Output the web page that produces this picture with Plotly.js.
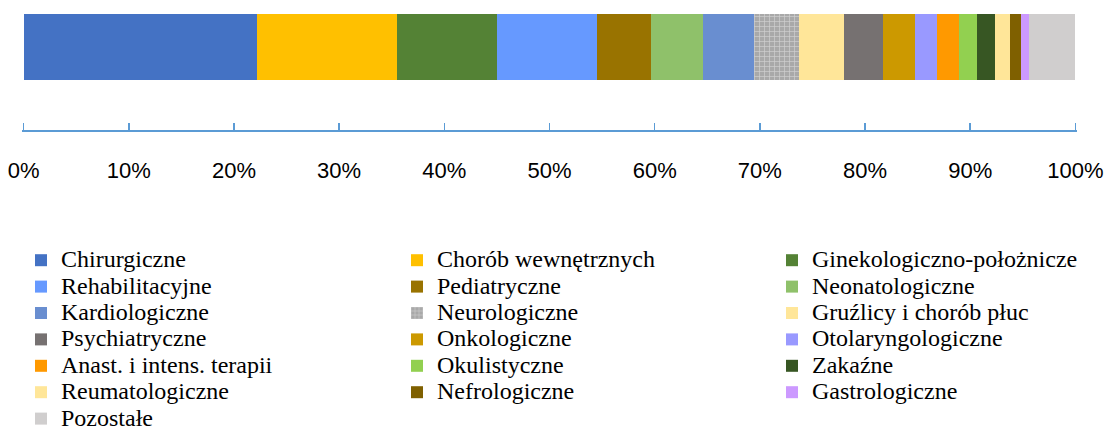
<!DOCTYPE html>
<html>
<head>
<meta charset="utf-8">
<script src="https://cdn.plot.ly/plotly-3.0.1.min.js"></script>
<style>html,body{margin:0;padding:0;background:#fff;}#chart{width:1105px;height:429px;}</style>
</head>
<body>
<div id="chart"></div>
<script>
const categories = ["Chirurgiczne","Chorób wewnętrznych","Ginekologiczno-położnicze","Rehabilitacyjne","Pediatryczne","Neonatologiczne","Kardiologiczne","Neurologiczne","Gruźlicy i chorób płuc","Psychiatryczne","Onkologiczne","Otolaryngologiczne","Anast. i intens. terapii","Okulistyczne","Zakaźne","Reumatologiczne","Nefrologiczne","Gastrologiczne","Pozostałe"];
const shares = [22.16,13.31,9.58,9.43,5.21,4.95,4.81,4.31,4.21,3.69,3.10,2.12,2.08,1.72,1.72,1.34,1.05,0.84,4.37];
const colors = ["#4472C4","#FFC000","#548235","#6699FF","#997300","#8FC16A","#698ED0","#ABABAB","#FFE699","#767171","#CC9900","#9999FF","#FF9900","#92D050","#375623","#FFE699","#7F6000","#CC99FF","#D0CECE"];
const tickVals = [0,10,20,30,40,50,60,70,80,90,100];
const tickText = ["0%","10%","20%","30%","40%","50%","60%","70%","80%","90%","100%"];
const legendIds = ["legend","legend2","legend3"];

const traces = categories.map((name, i) => {
  const marker = {color: colors[i], line: {width: 0}};
  if (name === "Neurologiczne") {
    marker.pattern = {shape: "+", fgcolor: "#d0d0d0", bgcolor: "#a9a9a9", size: 5, solidity: 0.25, fillmode: "replace"};
  }
  return {
    type: "bar", orientation: "h", name: '<span style="font-size:24px">' + name + '</span>',
    x: [shares[i]], y: [0], width: 1, marker: marker, hoverinfo: "skip",
    legend: legendIds[i % 3]
  };
});

function legendAt(px) {
  return {
    orientation: "v", xref: "container", yref: "container",
    x: px / 1105, y: 1 - 242 / 429, xanchor: "left", yanchor: "top",
    traceorder: "normal", tracegroupgap: 0,
    font: {family: "Liberation Serif, Times New Roman, serif", size: 18, color: "#000"},
    bgcolor: "rgba(0,0,0,0)", borderwidth: 0, itemclick: false, itemdoubleclick: false
  };
}

const layout = {
  width: 1105, height: 429,
  margin: {l: 22, r: 28, t: 14, b: 299, autoexpand: false},
  barmode: "stack",
  paper_bgcolor: "#fff", plot_bgcolor: "#fff",
  showlegend: true,
  xaxis: {
    range: [-0.15, 100.15], tickvals: tickVals, ticktext: tickText,
    showline: true, linecolor: "#5B9BD5", linewidth: 2,
    ticks: "inside", ticklen: 7, tickwidth: 1.5, tickcolor: "#5B9BD5",
    showgrid: false, zeroline: false, fixedrange: true, automargin: false,
    ticklabelstandoff: 20,
    tickfont: {family: "Liberation Sans, Arial, sans-serif", size: 22, color: "#000"}
  },
  yaxis: {range: [-1.258, 0.5], visible: false, fixedrange: true, automargin: false},
  legend: legendAt(21),
  legend2: legendAt(397),
  legend3: legendAt(772)
};

Plotly.newPlot("chart", traces, layout, {displayModeBar: false, staticPlot: true});
</script>
</body>
</html>
